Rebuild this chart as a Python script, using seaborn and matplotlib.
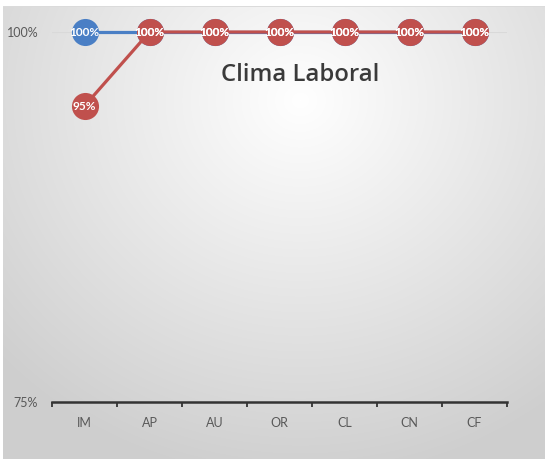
import numpy as np
import pandas as pd
import matplotlib
matplotlib.use("Agg")
import matplotlib.pyplot as plt
import seaborn as sns

categories = ["IM", "AP", "AU", "OR", "CL", "CN", "CF"]
serie_azul = [100, 100, 100, 100, 100, 100, 100]
serie_roja = [95, 100, 100, 100, 100, 100, 100]
title = "Clima Laboral"

sns.set_style("white")
plt.rcParams['font.family'] = ['Lato', 'DejaVu Sans']

W, H = 545, 459
fig = plt.figure(figsize=(W / 100, H / 100), dpi=100)

# background gradient
bg = fig.add_axes([0, 0, 1, 1], zorder=-10)
yy, xx = np.mgrid[0:H, 0:W]
d = np.sqrt(((xx - 300) / 430.0) ** 2 + ((yy - 100) / 400.0) ** 2)
val = np.clip(1.0 - 0.2 * d, 0.81, 1.0)
img = np.dstack([val, val, val])
img[:6, :, :] = 1.0
img[6, :, :] = 0.86
img[:, :3, :] = 1.0
bg.imshow(img, aspect="auto", extent=[0, 1, 0, 1], origin="upper")
bg.set_axis_off()

ax = fig.add_axes([52 / W, 1 - 402 / H, (507 - 52) / W, (402 - 32) / H])
ax.patch.set_alpha(0)

df = pd.DataFrame({
    "x": list(range(len(categories))) * 2,
    "val": serie_azul + serie_roja,
    "serie": ["azul"] * len(categories) + ["roja"] * len(categories),
})
palette = {"azul": "#4a7fc5", "roja": "#c0504d"}

ax.axhline(100, color="#d9d9d9", lw=0.8, zorder=0)
sns.lineplot(data=df, x="x", y="val", hue="serie", palette=palette, ax=ax,
             lw=2.3, marker="o", markersize=19.5, markeredgewidth=0,
             legend=False, clip_on=False, zorder=3)

for xi, v in enumerate(serie_azul):
    ax.text(xi, v, f"{v}%", color="white", fontsize=8.5, fontweight="bold",
            ha="center", va="center", zorder=5, clip_on=False)
for xi, v in enumerate(serie_roja):
    ax.text(xi, v, f"{v}%", color="white", fontsize=8.5, fontweight="bold",
            ha="center", va="center", zorder=6, clip_on=False)

ax.set_xlim(-0.5, len(categories) - 0.5)
ax.set_ylim(75, 100)
ax.set_yticks([75, 100])
ax.set_yticklabels(["75%", "100%"], color="#595959", fontsize=9)
ax.set_xticks(range(len(categories)))
ax.set_xticklabels(categories, color="#595959", fontsize=9)
ax.set_xticks(np.arange(-0.5, len(categories), 1), minor=True)
ax.tick_params(axis="x", which="major", bottom=False, length=0, pad=11)
ax.tick_params(axis="x", which="minor", bottom=True, length=3.5, width=1.3,
               color="#333333", direction="out")
ax.tick_params(axis="y", left=False, length=0, pad=10)
ax.set_xlabel("")
ax.set_ylabel("")
for s in ["top", "right", "left"]:
    ax.spines[s].set_visible(False)
ax.spines["bottom"].set_color("#333333")
ax.spines["bottom"].set_linewidth(1.8)

fig.text(300 / W, 1 - 75 / H, title, ha="center", va="center",
         fontsize=17.2, color="#3a3a3a", family=["Open Sans", "DejaVu Sans"],
         fontweight="semibold")

fig.savefig("out.png", dpi=100)
